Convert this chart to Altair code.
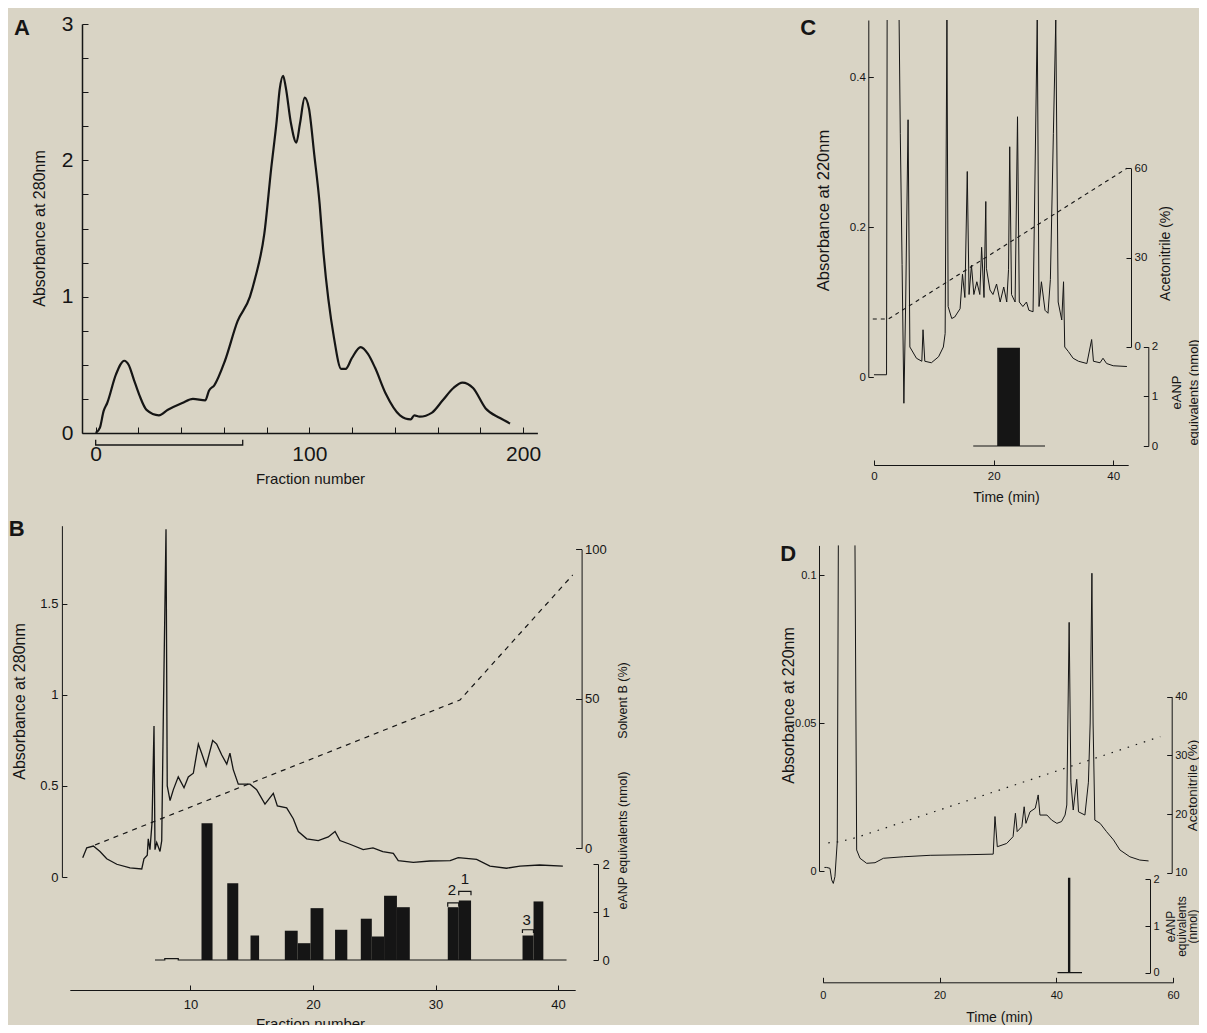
import altair as alt
import pandas as pd

FONT = "Liberation Sans"
INK = "#151515"
BG = "#d9d4c5"
W, H, M = 1191, 1017, 8

# ---------------- Panel A: absorbance at 280 nm vs fraction number ----------------
a_fraction = [0, 2.0, 3.7, 5.4, 9.5, 13.4, 15.4, 17.9, 20.4, 23.8, 29.6, 33.8, 40.5, 45.5,
              51.3, 53.0, 55.5, 60.5, 66.4, 72.2, 74.7, 78.9, 82.2, 84.7, 86.1, 87.7, 88.9,
              91.4, 93.9, 95.6, 97.8, 99.8, 102.3, 104.8, 106.5, 111.5, 114.9, 117.0, 119.9,
              124.0, 127.4, 130.7, 135.7, 142.4, 147.4, 149.1, 151.6, 157.4, 162.4, 167.4,
              171.6, 176.6, 182.5, 189.2, 193.9]
a_absorbance = [0, 0.04, 0.16, 0.22, 0.43, 0.53, 0.50, 0.39, 0.28, 0.17, 0.13, 0.17, 0.22, 0.25,
                0.24, 0.31, 0.35, 0.53, 0.82, 1.00, 1.14, 1.46, 1.95, 2.29, 2.52, 2.62, 2.54,
                2.27, 2.13, 2.27, 2.46, 2.38, 2.04, 1.68, 1.34, 0.70, 0.47, 0.47, 0.55,
                0.63, 0.58, 0.48, 0.29, 0.13, 0.10, 0.13, 0.12, 0.15, 0.24, 0.33,
                0.37, 0.33, 0.18, 0.11, 0.07]
a_pool_fraction = [0, 0, 68.8, 68.8]
a_pool_level = [-0.05, -0.088, -0.088, -0.05]

# ---------------- Panel B ----------------
b_fraction = [1.2, 1.53, 2.07, 2.61, 3.16, 3.98, 5.06, 6.02, 6.2, 6.47, 6.55, 6.69, 6.86, 7.02,
              7.10, 7.24, 7.51, 7.65, 7.78, 8.0, 8.1, 8.33, 8.6, 9.0, 9.47, 9.82, 10.23, 10.64,
              10.91, 11.27, 11.81, 12.14, 12.55, 12.96, 13.22, 13.49, 13.9, 14.86, 15.4, 16.08,
              16.76, 17.09, 17.85, 18.39, 18.8, 19.49, 20.43, 21.25, 21.8, 22.2, 23.02, 24.1,
              24.9, 25.7, 26.56, 26.96, 28.19, 29.55, 31.2, 31.86, 33.36, 34.45, 35.8, 36.9,
              38.5, 40.4]
b_absorbance = [0.106, 0.16, 0.17, 0.14, 0.10, 0.07, 0.05, 0.044, 0.10, 0.12, 0.21, 0.15, 0.30, 0.83,
                0.15, 0.19, 0.14, 0.20, 0.88, 1.91, 0.50, 0.42, 0.48, 0.55, 0.49, 0.55, 0.57, 0.73,
                0.68, 0.61, 0.75, 0.73, 0.67, 0.62, 0.68, 0.59, 0.51, 0.51, 0.48, 0.40,
                0.46, 0.39, 0.38, 0.32, 0.25, 0.21, 0.20, 0.22, 0.25, 0.20, 0.18, 0.15,
                0.16, 0.14, 0.13, 0.09, 0.08, 0.088, 0.09, 0.106, 0.097, 0.06, 0.048, 0.06,
                0.066, 0.06]
b_solvent_fraction = [2.2, 32.0, 41.2]
b_solvent_pct = [1.1, 49.6, 91.4]
b_bar_start = [10.9, 13.0, 14.9, 17.7, 18.75, 19.8, 21.8, 23.9, 24.8, 25.8, 26.85, 31.0, 31.9, 37.1, 38.0]
b_bar_end = [11.8, 13.9, 15.6, 18.75, 19.8, 20.85, 22.8, 24.8, 25.8, 26.85, 27.9, 31.9, 32.9, 38.0, 38.8]
b_bar_eanp = [2.85, 1.60, 0.51, 0.61, 0.35, 1.08, 0.63, 0.86, 0.49, 1.34, 1.10, 1.10, 1.24, 0.51, 1.22]
b_base_fraction = [7.1, 7.9, 7.9, 9.0, 9.0, 40.7]
b_base_eanp = [0, 0, 0.03, 0.03, 0, 0]
b_pool_names = ["2", "1", "3"]
b_pool_start = [31.0, 31.9, 37.1]
b_pool_end = [31.9, 32.9, 38.0]
b_pool_low = [1.11, 1.35, 0.56]
b_pool_high = [1.19, 1.43, 0.63]
b_pool_label_x = [31.35, 32.4, 37.45]
b_pool_label_y = [1.30, 1.52, 0.66]

# ---------------- Panel C ----------------
c_time = [0.0, 2.1, 2.2, 4.2, 4.4, 4.7, 5.0, 5.3, 5.7, 6.0, 6.3, 7.1, 8.0, 8.2, 8.5, 9.6, 10.8,
          11.6, 11.9, 12.2, 12.4, 13.0, 13.5, 14.4, 14.8, 15.2, 15.6, 15.9, 16.3, 16.7, 17.2,
          17.7, 18.0, 18.4, 18.7, 18.8, 19.4, 19.9, 20.5, 21.1, 21.7, 22.2, 22.5, 22.7, 23.0,
          23.6, 24.0, 24.3, 24.9, 25.5, 25.9, 26.6, 27.3, 27.6, 28.0, 28.6, 29.1, 29.5, 30.0,
          30.4, 30.8, 31.4, 31.7, 31.9, 32.5, 33.3, 34.2, 35.6, 36.4, 36.7, 37.8, 38.3, 38.9,
          40.0, 42.3]
c_absorbance = [0.003, 0.003, 0.476, 0.476, 0.325, 0.15, -0.035, 0.10, 0.343, 0.040, 0.036, 0.025,
                0.021, 0.063, 0.021, 0.019, 0.027, 0.040, 0.058, 0.476, 0.094, 0.078, 0.080,
                0.091, 0.137, 0.106, 0.274, 0.110, 0.149, 0.110, 0.127, 0.110, 0.173, 0.106,
                0.234, 0.145, 0.116, 0.110, 0.124, 0.100, 0.120, 0.100, 0.143, 0.307, 0.110,
                0.100, 0.347, 0.100, 0.094, 0.100, 0.089, 0.087, 0.476, 0.094, 0.127, 0.089,
                0.085, 0.130, 0.325, 0.476, 0.100, 0.076, 0.127, 0.040, 0.034, 0.025, 0.021,
                0.018, 0.050, 0.021, 0.019, 0.025, 0.018, 0.015, 0.014]
c_acn_time = [-0.2, 2.4, 42.3]
c_acn_pct = [9.3, 9.3, 60.0]
c_bar_start = [20.6]
c_bar_end = [24.4]
c_bar_eanp = [1.98]
c_base_time = [16.6, 28.6]
c_base_eanp = [0, 0]

# ---------------- Panel D ----------------
d_time = [0.3, 0.68, 1.25, 1.54, 1.82, 2.1, 2.5, 2.68, 5.53, 5.82, 6.39, 7.53, 8.96, 10.4, 13.8,
          18.4, 24.7, 29.2, 29.5, 29.9, 31.5, 32.6, 33.0, 33.3, 34.1, 34.5, 34.8, 35.5, 36.4,
          36.9, 37.2, 38.4, 39.2, 40.1, 40.9, 41.5, 41.8, 42.2, 42.5, 42.9, 43.5, 43.8, 44.9,
          45.5, 45.8, 46.1, 46.3, 46.6, 47.5, 48.6, 49.8, 50.9, 52.6, 54.3, 55.8]
d_absorbance = [0.0012, 0.0012, 0.0009, -0.0030, -0.0042, -0.0019, 0.010, 0.110, 0.110, 0.0071,
                0.0043, 0.0026, 0.0028, 0.0043, 0.0048, 0.0053, 0.0055, 0.0057, 0.0184, 0.0082,
                0.0093, 0.0116, 0.0195, 0.0133, 0.0150, 0.0217, 0.0161, 0.0200, 0.0212, 0.0257,
                0.0189, 0.0189, 0.0172, 0.0161, 0.0167, 0.0189, 0.0223, 0.084, 0.030, 0.0206,
                0.031, 0.020, 0.0189, 0.030, 0.050, 0.1006, 0.050, 0.0172, 0.0161, 0.0133, 0.0105,
                0.0071, 0.0048, 0.0037, 0.0034]
d_acn_time = [0.96, 3.0, 5.8, 57.8]
d_acn_pct = [15.1, 15.3, 16.0, 33.2]
d_eanp_time = [40.2, 42.1, 42.1, 42.3, 42.3, 44.4]
d_eanp = [0, 0, 2.02, 2.02, 0, 0]

panel_letters = ["A", "B", "C", "D"]


# ---------------- helpers ----------------
def sc(d0, d1, p0, p1):
    return alt.Scale(domain=[d0, d1], range=[p0 - M, p1 - M], nice=False, zero=False)


PLAIN = "'' + datum.value"
COMMON = dict(grid=False, labelOverlap=False, labelFlush=False, domainColor=INK, tickColor=INK,
              labelColor=INK, labelFont=FONT, titleFont=FONT, titleColor=INK,
              titleFontWeight="normal", tickWidth=1)


def y_axis_left(x_ref, values, fs, ts=5, gap=3, title=None, t_ref=(0, 0), tfs=14,
                label_expr=PLAIN, dw=1.0):
    xc = x_ref - M
    kw = dict(COMMON, orient="right", offset=xc - W, values=values, tickSize=ts,
              labelAlign="right", labelPadding=-(ts + gap), labelFontSize=fs, domainWidth=dw,
              labelExpr=label_expr)
    if title:
        kw.update(title=title, titleX=t_ref[0] - M - xc, titleY=t_ref[1] - M, titleAngle=270,
                  titleAlign="center", titleBaseline="middle", titleFontSize=tfs)
    else:
        kw["title"] = None
    return alt.Axis(**kw)


def y_axis_right(x_ref, values, fs, ts=5, gap=3, title=None, t_ref=(0, 0), tfs=14, lh=15):
    xc = x_ref - M
    kw = dict(COMMON, orient="left", offset=-xc, values=values, tickSize=ts,
              labelAlign="left", labelPadding=-(ts + gap), labelFontSize=fs, domainWidth=1,
              labelExpr=PLAIN)
    if title:
        kw.update(title=title, titleX=t_ref[0] - M - xc, titleY=t_ref[1] - M, titleAngle=270,
                  titleAlign="center", titleBaseline="middle", titleFontSize=tfs,
                  titleLineHeight=lh)
    else:
        kw["title"] = None
    return alt.Axis(**kw)


def x_axis_bottom(y_ref, values, fs, ts=5, gap=4, title=None, t_ref=(0, 0), tfs=14,
                  label_expr=PLAIN, dw=1.0):
    yc = y_ref - M
    kw = dict(COMMON, orient="top", offset=-yc, values=values, tickSize=ts,
              labelAlign="center", labelBaseline="top", labelPadding=-(ts + gap),
              labelFontSize=fs, domainWidth=dw, labelExpr=label_expr)
    if title:
        kw.update(title=title, titleX=t_ref[0] - M, titleY=t_ref[1] - y_ref, titleAngle=0,
                  titleAlign="center", titleBaseline="middle", titleFontSize=tfs)
    else:
        kw["title"] = None
    return alt.Axis(**kw)


def line(df, xf, yf, xs, ys, xa=None, ya=None, sw=1.0, dash=None, interp="linear"):
    kw = dict(color=INK, strokeWidth=sw, interpolate=interp)
    if dash:
        kw["strokeDash"] = dash
    enc = dict(x=alt.X(f"{xf}:Q", scale=xs, axis=xa),
               y=alt.Y(f"{yf}:Q", scale=ys, axis=ya),
               order="i:Q")
    if "seg" in df.columns:
        enc["detail"] = "seg:N"
    return alt.Chart(df).mark_line(**kw).encode(**enc)


def frame(**cols):
    df = pd.DataFrame(cols)
    df["i"] = range(len(df))
    return df


def trace_frame(t, v, top):
    """Split a trace where it runs off the top of its panel (not drawn along the edge)."""
    df = frame(t=t, v=v)
    seg, out = 0, []
    for k in range(len(v)):
        if k > 0 and v[k] >= top and v[k - 1] >= top:
            seg += 1
        out.append(seg)
    df["seg"] = out
    return df


# ---------------- scales (data -> page pixels) ----------------
AX = sc(-6.4, 206.7, 82.0, 537.4)
AY = sc(0, 3, 433, 24)

BX = sc(-0.5, 41.93, 61.9, 581.6)
BXA = sc(0.15, 41.4, 69.8, 575.2)
BY = sc(0, 1.93, 877, 525.7)
BS = sc(0, 100, 848.3, 549.3)
BE = sc(0, 2, 960, 864)

CX = sc(-0.95, 42.98, 868.3, 1131.0)
CXA = sc(0, 42.5, 874, 1128.2)
CY = sc(0, 0.476, 377, 20)
CA = sc(0, 60, 346.7, 168.3)
CE = sc(0, 2, 446, 346.7)

DX = sc(-0.63, 60, 819, 1173.1)
DXA = sc(0, 60, 822.7, 1173.1)
DY = sc(0, 0.110, 871, 545.4)
DA = sc(10, 40, 872.7, 696.7)
DE = sc(0, 2, 972.7, 879.3)

layers = []

# ---------------- Panel A layers ----------------
a_df = frame(f=a_fraction, v=a_absorbance)
layers.append(line(
    a_df, "f", "v", AX, AY,
    xa=x_axis_bottom(433, [i * 20 for i in range(11)], 21, ts=6, gap=10, title="Fraction number",
                     t_ref=(310, 478), tfs=15,
                     label_expr="datum.value % 100 === 0 ? '' + datum.value : ''", dw=1.5),
    ya=y_axis_left(82, [i * 0.25 for i in range(13)], 21, ts=6, gap=9,
                   title="Absorbance at 280nm", t_ref=(39, 228), tfs=16,
                   label_expr="datum.value % 1 === 0 ? '' + datum.value : ''", dw=1.5),
    sw=2.2, interp="monotone"))
layers.append(line(frame(f=a_pool_fraction, v=a_pool_level), "f", "v", AX, AY, sw=1.3))

# ---------------- Panel B layers ----------------
layers.append(line(
    frame(f=b_fraction, v=b_absorbance), "f", "v", BX, BY,
    ya=y_axis_left(61.9, [0, 0.5, 1, 1.5], 13, ts=5, gap=4, title="Absorbance at 280nm",
                   t_ref=(19, 701), tfs=16),
    sw=1.3))
layers.append(line(
    frame(f=b_solvent_fraction, v=b_solvent_pct), "f", "v", BX, BS,
    ya=y_axis_right(581.6, [0, 50, 100], 13, ts=6, gap=3, title="Solvent B (%)",
                    t_ref=(622, 700), tfs=12.5),
    sw=1.2, dash=[5, 5]))
bars_df = pd.DataFrame({"x0": b_bar_start, "x1": b_bar_end, "e": b_bar_eanp})
bars_df["e0"] = 0.0
layers.append(alt.Chart(bars_df).mark_rect(color=INK).encode(
    x=alt.X("x0:Q", scale=BXA,
            axis=x_axis_bottom(990, [10, 20, 30, 40], 13, ts=5, gap=8, title="Fraction number",
                               t_ref=(310, 1023), tfs=15)),
    x2="x1:Q",
    y=alt.Y("e:Q", scale=BE,
            axis=y_axis_right(598, [0, 1, 2], 13, ts=5, gap=4, title="eANP equivalents (nmol)",
                              t_ref=(622, 840), tfs=12.5)),
    y2="e0:Q",
))
layers.append(line(frame(f=b_base_fraction, v=b_base_eanp), "f", "v", BX, BE, sw=1.2))
rows = []
for k, name in enumerate(b_pool_names):
    pts = [(b_pool_start[k], b_pool_low[k]), (b_pool_start[k], b_pool_high[k]),
           (b_pool_end[k], b_pool_high[k]), (b_pool_end[k], b_pool_low[k])]
    for j, (fx, ev) in enumerate(pts):
        rows.append({"pool": name, "f": fx, "v": ev, "i": j})
pool_df = pd.DataFrame(rows)
layers.append(alt.Chart(pool_df).mark_line(color=INK, strokeWidth=1.2).encode(
    x=alt.X("f:Q", scale=BX, axis=None), y=alt.Y("v:Q", scale=BE, axis=None),
    detail="pool:N", order="i:Q"))
layers.append(alt.Chart(pd.DataFrame({"t": b_pool_names, "f": b_pool_label_x, "v": b_pool_label_y}))
              .mark_text(font=FONT, fontSize=15, color=INK, align="center", baseline="bottom")
              .encode(x=alt.X("f:Q", scale=BX, axis=None), y=alt.Y("v:Q", scale=BE, axis=None),
                      text="t:N"))

# ---------------- Panel C layers ----------------
layers.append(line(
    trace_frame(c_time, c_absorbance, 0.476), "t", "v", CX, CY,
    ya=y_axis_left(868.3, [0, 0.2, 0.4], 11.5, ts=5, gap=3, title="Absorbance at 220nm",
                   t_ref=(823, 210), tfs=16.5),
    sw=1.0))
layers.append(line(
    frame(t=c_acn_time, v=c_acn_pct), "t", "v", CX, CA,
    ya=y_axis_right(1131.0, [0, 30, 60], 11.5, ts=5, gap=3, title="Acetonitrile (%)",
                    t_ref=(1165, 253), tfs=14),
    sw=1.1, dash=[4, 4]))
cbar_df = pd.DataFrame({"x0": c_bar_start, "x1": c_bar_end, "e": c_bar_eanp})
cbar_df["e0"] = 0.0
layers.append(alt.Chart(cbar_df).mark_rect(color=INK).encode(
    x=alt.X("x0:Q", scale=CXA,
            axis=x_axis_bottom(465, [0, 20, 40], 11.5, ts=5, gap=5, title="Time (min)",
                               t_ref=(1006, 497), tfs=14)),
    x2="x1:Q",
    y=alt.Y("e:Q", scale=CE,
            axis=y_axis_right(1148.3, [0, 1, 2], 11.5, ts=5, gap=3,
                              title=["eANP", "equivalents (nmol)"], t_ref=(1176, 392), tfs=13,
                              lh=17)),
    y2="e0:Q",
))
layers.append(line(frame(t=c_base_time, v=c_base_eanp), "t", "v", CX, CE, sw=1.0))

# ---------------- Panel D layers ----------------
layers.append(line(
    trace_frame(d_time, d_absorbance, 0.110), "t", "v", DX, DY,
    ya=y_axis_left(819, [0, 0.05, 0.1], 11, ts=5, gap=3, title="Absorbance at 220nm",
                   t_ref=(788, 705), tfs=16),
    sw=1.0))
layers.append(line(
    frame(t=d_acn_time, v=d_acn_pct), "t", "v", DX, DA,
    ya=y_axis_right(1171.7, [10, 20, 30, 40], 11, ts=5, gap=3, title="Acetonitrile (%)",
                    t_ref=(1192, 785), tfs=13.5),
    sw=1.2, dash=[1.5, 7]))
layers.append(line(
    frame(t=d_eanp_time, v=d_eanp), "t", "v", DXA, DE,
    xa=x_axis_bottom(982.3, [0, 20, 40, 60], 11, ts=5, gap=7, title="Time (min)",
                     t_ref=(999, 1017), tfs=14),
    ya=y_axis_right(1150, [0, 1, 2], 11, ts=5, gap=3,
                    title=["eANP", "equivalents", "(nmol)"], t_ref=(1170, 926), tfs=12, lh=11),
    sw=1.2))

# ---------------- panel letters (in each panel's own coordinates) ----------------
letter_specs = [
    (panel_letters[0], -34.5, 2.97, AX, AY),
    (panel_letters[1], -4.2, 1.91, BX, BY),
    (panel_letters[2], -11.0, 0.465, CX, CY),
    (panel_letters[3], -5.9, 0.107, DX, DY),
]
for name, lx, ly, xs_, ys_ in letter_specs:
    layers.append(alt.Chart(pd.DataFrame({"t": [name], "x": [lx], "y": [ly]}))
                  .mark_text(font=FONT, fontSize=22, fontWeight="bold", color=INK,
                             align="center", baseline="middle")
                  .encode(x=alt.X("x:Q", scale=xs_, axis=None),
                          y=alt.Y("y:Q", scale=ys_, axis=None), text="t:N"))

chart = (
    alt.layer(*layers)
    .resolve_scale(x="independent", y="independent")
    .properties(width=W, height=H, autosize=alt.AutoSizeParams(type="none"), padding=0)
    .configure(background=BG)
    .configure_view(stroke=None)
)

chart.save("out.html", embed_options={"renderer": "svg", "actions": False})
